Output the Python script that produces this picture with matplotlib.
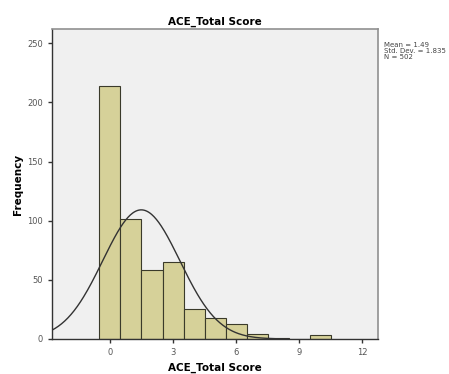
import numpy as np
from matplotlib import pyplot as plt

scores = [0, 1, 2, 3, 4, 5, 6, 7, 8, 9, 10]
counts = [214, 101, 58, 65, 25, 18, 13, 4, 1, 0, 3]
mean, sd, n = 1.49, 1.835, 502

fig = plt.figure(figsize=(4.49, 3.74), dpi=100)
ax = fig.add_axes([0.1158, 0.0936, 0.7262, 0.8289])
ax.set_facecolor('#f0f0f0')

ax.bar(scores, counts, width=1.0, color='#d6d199', edgecolor='#3a3a2a', linewidth=0.8)

# normal curve scaled to counts (bin width 1)
xs = np.linspace(-2.76, 8.5, 300)
ys = n / (sd * np.sqrt(2 * np.pi)) * np.exp(-0.5 * ((xs - mean) / sd) ** 2)
ax.plot(xs, ys, color='#333333', linewidth=1.0)

ax.set_xlim(-2.76, 12.76)
ax.set_ylim(0, 262)
ax.set_xticks([0, 3, 6, 9, 12])
ax.set_yticks([0, 50, 100, 150, 200, 250])
ax.tick_params(labelsize=6, colors='#555555', length=3, width=1)
ax.tick_params(axis='both', color='#333333')

for side in ['top', 'right']:
	ax.spines[side].set_color('#909090')
	ax.spines[side].set_linewidth(1.2)
for side in ['left', 'bottom']:
	ax.spines[side].set_color('#333333')
	ax.spines[side].set_linewidth(1.0)

ax.set_title('ACE_Total Score', fontsize=7.5, fontweight='bold', pad=3)
ax.set_xlabel('ACE_Total Score', fontsize=7.5, fontweight='bold', labelpad=4)
ax.set_ylabel('Frequency', fontsize=7.5, fontweight='bold', labelpad=3)

fig.text(384 / 449, 1 - 51 / 374, 'Mean = 1.49\nStd. Dev. = 1.835\nN = 502',
	fontsize=5, color='#444444', va='center', ha='left', linespacing=1.0)

fig.savefig('out.png', dpi=100)
